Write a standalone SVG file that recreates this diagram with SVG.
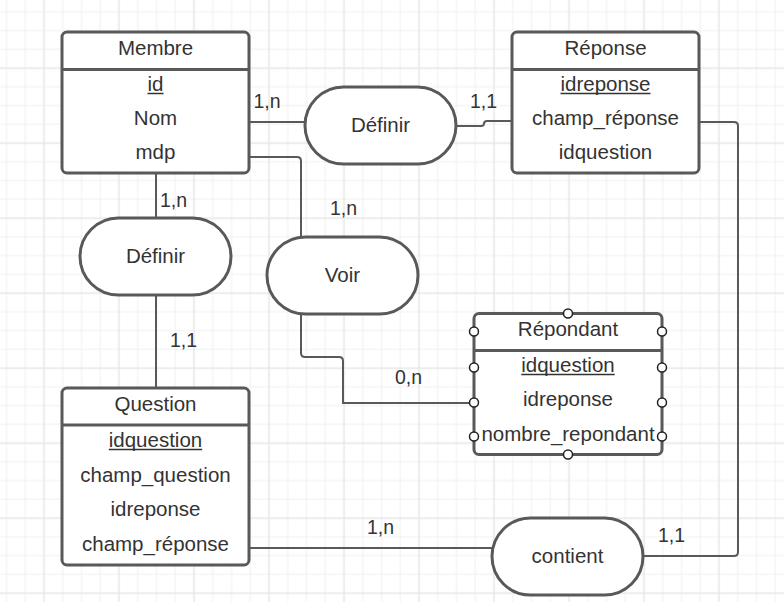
<svg xmlns="http://www.w3.org/2000/svg" width="784" height="602" viewBox="0 0 784 602">
<defs>
<pattern id="grid" patternUnits="userSpaceOnUse" x="34.625" y="58.625" width="75" height="75">
<path d="M28.125 0V75M46.875 0V75M65.625 0V75M0 28.125H75M0 46.875H75M0 65.625H75" stroke="#f0f0f0" stroke-width="1" fill="none"/>
<path d="M9.375 0V75M0 9.375H75" stroke="#e6e6e6" stroke-width="1.5" fill="none"/>
</pattern>
</defs>
<style>
.box{fill:#fff;stroke:#595959;stroke-width:3}
.div{stroke:#595959;stroke-width:3}
.rel{fill:#fff;stroke:#595959;stroke-width:3}
.t{font-family:"Liberation Sans",Arial,sans-serif;font-size:20.5px;fill:#333;text-anchor:middle}
.lb{font-family:"Liberation Sans",Arial,sans-serif;font-size:19.5px;fill:#333;text-anchor:middle}
.ul{stroke:#333;stroke-width:1.5}
.c{fill:none;stroke:#595959;stroke-width:2}
.pt{fill:#fff;stroke:#222;stroke-width:1.5}
</style>
<rect width="784" height="602" fill="#fff"/>
<rect width="784" height="602" fill="url(#grid)"/>

<g id="connectors">
<path class="c" d="M249 122H305"/>
<path class="c" d="M456 126H481Q484 126 484 123.5Q484 121 487 121H512"/>
<path class="c" d="M249 157H297Q301 157 301 161V237"/>
<path class="c" d="M301 314V353Q301 357 305 357H339Q343 357 343 361V403H474"/>
<path class="c" d="M156 173V218"/>
<path class="c" d="M156 295V388"/>
<path class="c" d="M249 548H492"/>
<path class="c" d="M644 556H734Q738 556 738 552V126Q738 122 734 122H699"/>
<text class="lb" x="267" y="108">1,n</text>
<text class="lb" x="483.5" y="108">1,1</text>
<text class="lb" x="173.5" y="207">1,n</text>
<text class="lb" x="183.5" y="347">1,1</text>
<text class="lb" x="343.5" y="215">1,n</text>
<text class="lb" x="408.5" y="384">0,n</text>
<text class="lb" x="380.5" y="534">1,n</text>
<text class="lb" x="671.5" y="542">1,1</text>
</g>

<g id="membre">
<rect class="box" x="62" y="32" width="187" height="141" rx="5"/>
<line class="div" x1="62" y1="69.5" x2="249" y2="69.5"/>
<text class="t" x="155.5" y="55">Membre</text>
<text class="t" x="155.5" y="91">id</text>
<line class="ul" x1="147.5" y1="93.5" x2="163.5" y2="93.5"/>
<text class="t" x="155.5" y="125">Nom</text>
<text class="t" x="155.5" y="159">mdp</text>
</g>

<g id="reponse">
<rect class="box" x="512" y="32" width="187" height="141" rx="5"/>
<line class="div" x1="512" y1="69.5" x2="699" y2="69.5"/>
<text class="t" x="605.5" y="55">Réponse</text>
<text class="t" x="605.5" y="91">idreponse</text>
<line class="ul" x1="560.5" y1="93.5" x2="650.5" y2="93.5"/>
<text class="t" x="605.5" y="125">champ_réponse</text>
<text class="t" x="605.5" y="159">idquestion</text>
</g>

<g id="question">
<rect class="box" x="62" y="388" width="187" height="177" rx="5"/>
<line class="div" x1="62" y1="425" x2="249" y2="425"/>
<text class="t" x="155.5" y="411">Question</text>
<text class="t" x="155.5" y="447">idquestion</text>
<line class="ul" x1="108.8" y1="449.5" x2="202.2" y2="449.5"/>
<text class="t" x="155.5" y="482">champ_question</text>
<text class="t" x="155.5" y="516">idreponse</text>
<text class="t" x="155.5" y="551">champ_réponse</text>
</g>

<g id="repondant">
<rect class="box" x="474" y="313.5" width="188" height="141" rx="5"/>
<line class="div" x1="474" y1="350.5" x2="662" y2="350.5"/>
<text class="t" x="568" y="336">Répondant</text>
<text class="t" x="568" y="372">idquestion</text>
<line class="ul" x1="521.3" y1="374.5" x2="614.7" y2="374.5"/>
<text class="t" x="568" y="406">idreponse</text>
<text class="t" x="568" y="441">nombre_repondant</text>
<circle class="pt" cx="568" cy="313.5" r="4.5"/>
<circle class="pt" cx="568" cy="454.5" r="4.5"/>
<circle class="pt" cx="474" cy="331.5" r="4.5"/>
<circle class="pt" cx="474" cy="367.5" r="4.5"/>
<circle class="pt" cx="474" cy="402.5" r="4.5"/>
<circle class="pt" cx="474" cy="436.5" r="4.5"/>
<circle class="pt" cx="662" cy="331.5" r="4.5"/>
<circle class="pt" cx="662" cy="367.5" r="4.5"/>
<circle class="pt" cx="662" cy="402.5" r="4.5"/>
<circle class="pt" cx="662" cy="436.5" r="4.5"/>
</g>

<g id="definir-top">
<rect class="rel" x="305" y="87" width="151" height="77" rx="38.5"/>
<text class="t" x="380.5" y="132">Définir</text>
</g>

<g id="definir-left">
<rect class="rel" x="80" y="218" width="151" height="77" rx="38.5"/>
<text class="t" x="155.5" y="263">Définir</text>
</g>

<g id="voir">
<rect class="rel" x="267" y="237" width="151" height="77" rx="38.5"/>
<text class="t" x="342.5" y="282">Voir</text>
</g>

<g id="contient">
<rect class="rel" x="492" y="518" width="151" height="77" rx="38.5"/>
<text class="t" x="567.5" y="563">contient</text>
</g>
</svg>
